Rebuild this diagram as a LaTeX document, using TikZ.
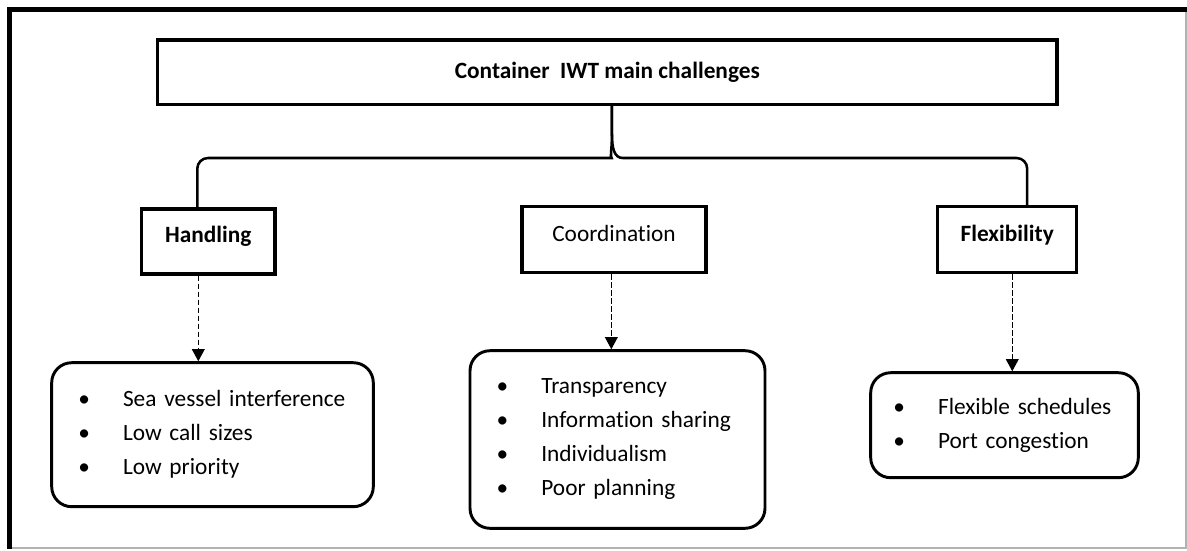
\documentclass[tikz,border=0pt]{standalone}
\usepackage{fontspec}
\setmainfont{Carlito}[Ligatures=NoCommon]
\usepackage{tikz}
\usetikzlibrary{arrows.meta}
\usetikzlibrary{calc}
\newcommand{\itm}[1]{\mbox{\makebox[33.5pt][l]{\textbullet}#1}}

\begin{document}
\begin{tikzpicture}[x=0.75pt,y=-0.75pt,
  tbox/.style={draw, line width=2.5pt, inner sep=0pt, font=\fontsize{17.5}{21}\selectfont},
  hbox/.style={draw, line width=2.5pt, inner sep=0pt, text height=12pt, text depth=10pt, font=\fontsize{17.5}{21}\selectfont},
  lbox/.style={draw, line width=2.2pt, rounded corners=15pt, inner xsep=20pt, align=left, font=\fontsize{17.5}{25.5}\selectfont},
  dsh/.style={line width=0.9pt, dash pattern=on 4pt off 2pt, -{Triangle[length=9pt,width=9.5pt]}},
  brc/.style={line width=1.9pt}]
\useasboundingbox (0,0) rectangle (1187,550);
% frame
\draw [gray!60, line width=0.8pt] (9.5,9.5) rectangle (1186,548);
\draw [line width=3.75pt] (9.5,548.5) |- (1187,9.5);
% boxes
\node [tbox, minimum width=674.6pt, minimum height=48.4pt] (ttl) at (607.3,72.3) {\textbf{Container~ IWT main challenges}};
\node [hbox, minimum width=100pt, minimum height=48.75pt] (hand) at (208.3,241.5) {\textbf{Handling}};
\node [hbox, minimum width=138pt, minimum height=49.5pt] (coord) at (614,239.7) {Coordination};
\node [hbox, minimum width=104.25pt, minimum height=49.5pt] (flex) at (1007.2,239.7) {\textbf{Flexibility}};
\node [lbox, text width=201.2pt, minimum height=108pt] (lhand) at (212.5,434.7) {\itm{Sea vessel interference}\\ \itm{Low call sizes}\\ \itm{Low priority}};
\node [lbox, text width=181.25pt, minimum height=133.2pt] (lcoord) at (617.5,439.5) {\itm{Transparency}\\ \itm{Information sharing}\\ \itm{Individualism}\\ \itm{Poor planning}};
\node [lbox, inner xsep=17pt, text width=166.7pt, minimum height=78.75pt] (lflex) at (1004.5,425.2) {\itm{Flexible schedules}\\ \itm{Port congestion}};
% brace
\coordinate (tip) at ([xshift=3.5pt]ttl.south);
\coordinate (lvl) at (0,158);
\draw [brc] ([xshift=-8.25pt]hand.north) [rounded corners=8pt] |- ($(tip |- lvl)+(-11,0)$) [sharp corners] .. controls +(9,0) and +(0,14) .. ($(tip |- lvl)+(0,-24)$) -- (tip);
\draw [brc] (tip) -- ($(tip |- lvl)+(0,-24)$) .. controls +(0,14) and +(-9,0) .. ($(tip |- lvl)+(11,0)$) [rounded corners=8pt] -| ([xshift=15pt]flex.north);
% arrows
\draw [dsh] ([xshift=-7.5pt]hand.south) -- ([xshift=-7.5pt]hand.south |- lhand.north);
\draw [dsh] ([xshift=-2pt]coord.south) -- ([xshift=-2pt]coord.south |- lcoord.north);
\draw [dsh] ([xshift=3.8pt]flex.south) -- ([xshift=3.8pt]flex.south |- lflex.north);
\end{tikzpicture}
\end{document}
